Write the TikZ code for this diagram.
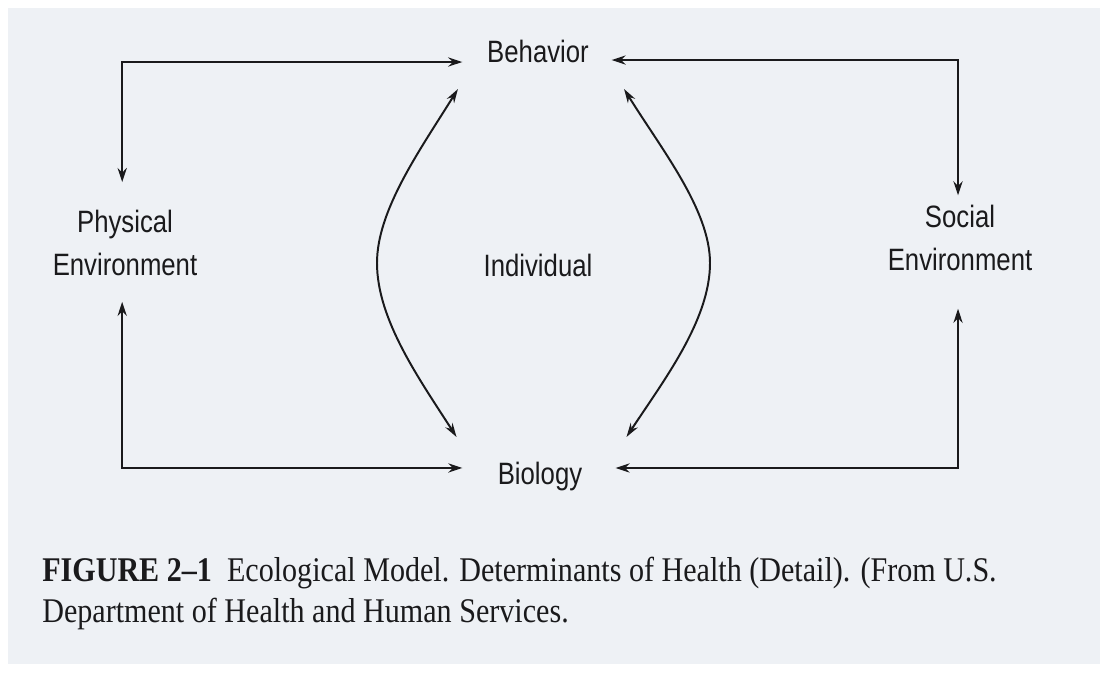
\documentclass[tikz,border=0pt]{standalone}
\usepackage{fontspec}
\setsansfont{Liberation Sans}
\setmainfont{Liberation Serif}
\usetikzlibrary{arrows.meta}
\definecolor{paper}{RGB}{238,241,245}
\definecolor{ink}{RGB}{26,26,28}

\begin{document}
\begin{tikzpicture}[x=0.025cm, y=-0.025cm,
    lbl/.style={font=\sffamily\fontsize{18.3}{25}\selectfont, text=ink, inner sep=0pt, align=center, yscale=1.2},
    capline/.style={font=\rmfamily\fontsize{21.4}{25}\selectfont, text=ink, inner sep=0pt, align=left, yscale=1.15},
    link/.style={line width=1.8pt, draw=ink, {Stealth[length=10pt,width=6.5pt]}-{Stealth[length=10pt,width=6.5pt]}},
    bow/.style={line width=1.4pt, draw=ink, {Stealth[length=10pt,width=6pt]}-{Stealth[length=10pt,width=6pt]}}]

    % Page and scanned paper
    \useasboundingbox (0,0) rectangle (1105,673);
    \fill[white] (0,0) rectangle (1105,673);
    \fill[paper] (8,8) rectangle (1100,664);

    % Define the determinants
    \node[lbl, anchor=base] (behavior) at (538,62) {Behavior};
    \node[lbl] (physenv) at (125,243) {Physical\\Environment};
    \node[lbl] (socenv) at (960,238) {Social\\Environment};
    \node[lbl] (individual) at (538,265) {Individual};
    \node[lbl, anchor=base] (biology) at (540,484) {Biology};

    % Caption
    \node[capline, anchor=north west] (figcap) at (42,557)
        {\textbf{FIGURE 2–1}\hspace{0.5em}Ecological Model. Determinants of Health (Detail). (From U.S.\\Department of Health and Human Services.};

    % Draw elbow links to the environments
    \draw[link, shorten <=20pt, shorten >=17.5pt] ([xshift=-2pt]physenv.north) |- (behavior.base west);
    \draw[link, shorten <=16pt, shorten >=7pt] ([yshift=1.4pt]behavior.base east) -| ([xshift=-1.4pt]socenv.north);
    \draw[link, shorten <=18.5pt, shorten >=25pt] ([xshift=-2pt]physenv.south) |- ([yshift=11.4pt]biology.base west);
    \draw[link, shorten <=23.5pt, shorten >=27pt] ([yshift=11.4pt]biology.base east) -| ([xshift=-1.4pt]socenv.south);

    % Curved links around the individual
    \draw[bow] ([shift={(-29,27)}]behavior.base west) .. controls (420,150) and (377,210) .. (377,263)
        .. controls (377,320) and (420,380) .. ([shift={(-41,-47)}]biology.base west);
    \draw[bow] ([shift={(35,27)}]behavior.base east) .. controls (662,150) and (710,210) .. (710,263)
        .. controls (710,320) and (664,380) .. ([shift={(44,-47)}]biology.base east);
\end{tikzpicture}
\end{document}
